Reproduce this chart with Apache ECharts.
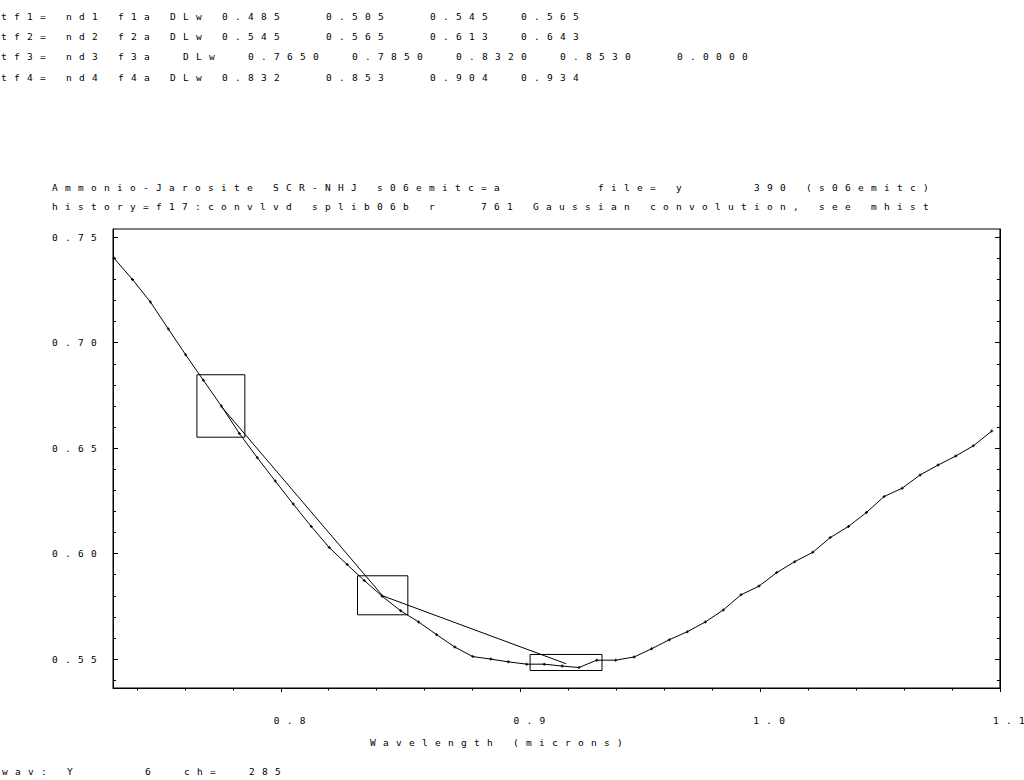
<!DOCTYPE html>
<html>
<head>
<meta charset="utf-8">
<script src="https://cdn.jsdelivr.net/npm/echarts@6/dist/echarts.min.js"></script>
<style>
html, body { margin: 0; padding: 0; background: #fff; }
#chart { width: 1024px; height: 780px; }
#chart text { letter-spacing: 7.28px; white-space: pre; }
</style>
</head>
<body>
<div id="chart"></div>
<script>
// ---- data ----
const wavelength = [0.7304, 0.7381, 0.7456, 0.7531, 0.7603, 0.7677, 0.7752, 0.7827, 0.7902, 0.7977,
  0.8052, 0.8127, 0.8202, 0.8277, 0.8348, 0.8423, 0.8500, 0.8575, 0.8650, 0.8726,
  0.8801, 0.8876, 0.8949, 0.9026, 0.9099, 0.9174, 0.9244, 0.9318, 0.9397, 0.9474,
  0.9547, 0.9621, 0.9696, 0.9771, 0.9846, 0.9920, 0.9995, 1.0069, 1.0144, 1.0219,
  1.0292, 1.0368, 1.0443, 1.0517, 1.0592, 1.0667, 1.0742, 1.0816, 1.0889, 1.0966];
const reflectance = [0.7401, 0.7300, 0.7193, 0.7065, 0.6943, 0.6822, 0.6700, 0.6570, 0.6455, 0.6344,
  0.6235, 0.6129, 0.6029, 0.5948, 0.5873, 0.5798, 0.5729, 0.5676, 0.5616, 0.5557,
  0.5512, 0.5500, 0.5487, 0.5476, 0.5476, 0.5467, 0.5460, 0.5495, 0.5495, 0.5510,
  0.5549, 0.5592, 0.5630, 0.5676, 0.5733, 0.5805, 0.5846, 0.5910, 0.5962, 0.6006,
  0.6076, 0.6129, 0.6195, 0.6271, 0.6310, 0.6373, 0.6420, 0.6463, 0.6511, 0.6581];
const continuumTf3 = [[0.775, 0.6700], [0.8425, 0.5800]];
const continuumTf4 = [[0.8425, 0.5800], [0.919, 0.5478]];
// boxes: [wavelength from, wavelength to, reflectance low, reflectance high]
const continuumBoxes = [[0.765, 0.785, 0.6552, 0.6848], [0.832, 0.853, 0.5710, 0.5895], [0.904, 0.934, 0.5446, 0.5522]];
const xRange = [0.73, 1.1];
const yRange = [0.5363, 0.7539];
const xMajorTicks = [0.8, 0.9, 1.0, 1.1];
const xMinorTicks = [0.74, 0.76, 0.78, 0.82, 0.84, 0.86, 0.88, 0.92, 0.94, 0.96, 0.98, 1.02, 1.04, 1.06, 1.08];
const yMajorTicks = [0.55, 0.60, 0.65, 0.70, 0.75];
const yMinorTicks = [0.54, 0.56, 0.57, 0.58, 0.59, 0.61, 0.62, 0.63, 0.64, 0.66, 0.67, 0.68, 0.69, 0.71, 0.72, 0.73, 0.74];
const headerLines = [
  'tf1= nd1 f1a DLw 0.485   0.505   0.545  0.565',
  'tf2= nd2 f2a DLw 0.545   0.565   0.613  0.643',
  'tf3= nd3 f3a  DLw  0.7650  0.7850  0.8320  0.8530   0.0000',
  'tf4= nd4 f4a DLw 0.832   0.853   0.904  0.934'
];
const titleLines = [
  'Ammonio-Jarosite SCR-NHJ s06emitc=a       file= y     390 (s06emitc)',
  'history=f17:convlvd splib06b r   761 Gaussian convolution, see mhist'
];
const xAxisName = 'Wavelength (microns)';
const footerLine = 'wav: Y     6  ch=  285';

// ---- chart ----
const FONT = '9.5px "DejaVu Sans Mono"';
const txt = { fontFamily: 'DejaVu Sans Mono', fontSize: 9.5, color: '#000' };
const plus = 'path://M1,0H2V1H3V2H2V3H1V2H0V1H1Z';

const graphics = [];
headerLines.forEach((t, i) => graphics.push({
  type: 'text', x: 1, y: 16 + i * 20.4,
  style: { text: t, font: FONT, fill: '#000', textVerticalAlign: 'middle' }
}));
titleLines.forEach((t, i) => graphics.push({
  type: 'text', x: 52, y: 187 + i * 19.5,
  style: { text: t, font: FONT, fill: '#000', textVerticalAlign: 'middle' }
}));
graphics.push({
  type: 'text', x: 2, y: 771,
  style: { text: footerLine, font: FONT, fill: '#000', textVerticalAlign: 'middle' }
});

const lineStyle = { color: '#000', width: 1 };
const baseY = { type: 'value', min: yRange[0], max: yRange[1], splitLine: { show: false } };
const baseX = { type: 'value', min: xRange[0], max: xRange[1], splitLine: { show: false } };

const option = {
  animation: false,
  backgroundColor: '#fff',
  grid: { left: 113, right: 24, top: 229, bottom: 92, show: true, borderColor: '#000', borderWidth: 1, backgroundColor: 'transparent' },
  graphic: graphics,
  xAxis: [
    Object.assign({}, baseX, {
      position: 'bottom',
      axisLine: { show: true, lineStyle },
      axisTick: { show: true, inside: false, length: 4, customValues: xMajorTicks, lineStyle },
      axisLabel: { show: true, customValues: xMajorTicks, formatter: v => v.toFixed(1), margin: 27,
        align: 'center', padding: [0, 0, 0, 25], ...txt },
      name: xAxisName, nameLocation: 'middle', nameGap: 49,
      nameTextStyle: Object.assign({ padding: [0, 113, 0, 0] }, txt)
    }),
    Object.assign({}, baseX, {
      position: 'bottom',
      axisLine: { show: false },
      axisTick: { show: true, inside: false, length: 2.5, customValues: xMinorTicks, lineStyle },
      axisLabel: { show: false }
    })
  ],
  yAxis: [
    Object.assign({}, baseY, {
      position: 'left',
      axisLine: { show: true, lineStyle },
      axisTick: { show: true, inside: true, length: 5, customValues: yMajorTicks, lineStyle },
      axisLabel: { show: true, customValues: yMajorTicks, formatter: v => v.toFixed(2), margin: 9, ...txt }
    }),
    Object.assign({}, baseY, {
      position: 'left',
      axisLine: { show: false },
      axisTick: { show: true, inside: true, length: 3, customValues: yMinorTicks, lineStyle },
      axisLabel: { show: false }
    }),
    Object.assign({}, baseY, {
      position: 'right',
      axisLine: { show: true, lineStyle },
      axisTick: { show: true, inside: true, length: 5, customValues: yMajorTicks, lineStyle },
      axisLabel: { show: false }
    }),
    Object.assign({}, baseY, {
      position: 'right',
      axisLine: { show: false },
      axisTick: { show: true, inside: true, length: 3, customValues: yMinorTicks, lineStyle },
      axisLabel: { show: false }
    })
  ],
  series: [
    {
      type: 'line', name: 'spectrum',
      data: wavelength.map((w, i) => [w, reflectance[i]]),
      symbol: plus, symbolSize: 3, showSymbol: true,
      itemStyle: { color: '#000' }, lineStyle,
      markArea: {
        silent: true,
        itemStyle: { color: 'rgba(0,0,0,0)', borderColor: '#000', borderWidth: 1 },
        data: continuumBoxes.map(b => [{ coord: [b[0], b[2]] }, { coord: [b[1], b[3]] }])
      }
    },
    {
      type: 'line', name: 'continuum tf3', data: continuumTf3,
      symbol: 'none', lineStyle
    },
    {
      type: 'line', name: 'continuum tf4', data: continuumTf4,
      symbol: 'none', lineStyle
    }
  ]
};

const chart = echarts.init(document.getElementById('chart'), null, { renderer: 'svg' });
chart.setOption(option);
</script>
</body>
</html>
